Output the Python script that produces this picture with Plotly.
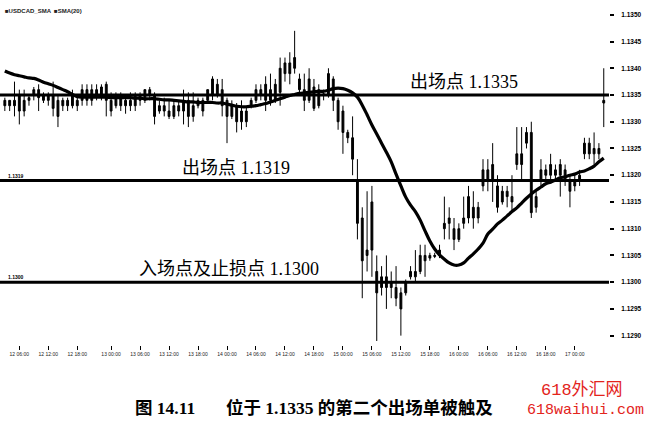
import plotly.graph_objects as go

# ---- data (hourly candles, index = bar number) ----
opens = [1.1334, 1.1333, 1.1334, 1.1335, 1.1332, 1.1334, 1.1335, 1.1336, 1.1334, 1.1335,
         1.1335, 1.1334, 1.1333, 1.1334, 1.1333, 1.1334, 1.1334, 1.1336, 1.1334, 1.1336,
         1.1335, 1.1337, 1.1334, 1.1333, 1.1335, 1.1333, 1.1334, 1.1333, 1.1335, 1.1334,
         1.1336, 1.1335, 1.1332, 1.1333, 1.1332, 1.1331, 1.1333, 1.1332, 1.1334, 1.1331,
         1.1333, 1.1334, 1.1334, 1.1335, 1.1337, 1.1336, 1.1334, 1.1331, 1.1333, 1.1330,
         1.1332, 1.1333, 1.1334, 1.1336, 1.1334, 1.1336, 1.1334, 1.13355, 1.1339, 1.1341,
         1.1340, 1.1338, 1.1336, 1.1334, 1.13365, 1.1333, 1.1335, 1.1335, 1.1338, 1.1334,
         1.1332, 1.1328, 1.1327, 1.1319, 1.1312, 1.1305, 1.1315, 1.1302, 1.1299, 1.1301,
         1.1299, 1.1299, 1.1298, 1.1298, 1.1301, 1.1301, 1.1302, 1.1304, 1.1305, 1.13048,
         1.1305, 1.1310, 1.1311, 1.1310, 1.1308, 1.1311, 1.1312, 1.1314, 1.1312, 1.1318,
         1.1321, 1.1319, 1.1318, 1.1315, 1.1317, 1.1316, 1.1322, 1.1324, 1.1326, 1.1328,
         1.1314, 1.1319, 1.1321, 1.1320, 1.1321, 1.1320, 1.1321, 1.1319, 1.1318, 1.1319,
         1.1324, 1.1326, 1.1324, 1.1325, 1.13335]
highs = [1.13345, 1.1334, 1.13375, 1.1336, 1.1336, 1.1335, 1.13365, 1.1337, 1.13355, 1.13355,
         1.13375, 1.1335, 1.13345, 1.13345, 1.1336, 1.13345, 1.1337, 1.1337, 1.1337, 1.1337,
         1.1337, 1.13375, 1.13355, 1.13355, 1.13355, 1.1335, 1.13355, 1.13355, 1.13355, 1.1336,
         1.13365, 1.13355, 1.1334, 1.13345, 1.1334, 1.1334, 1.1334, 1.1336, 1.13355, 1.13355,
         1.13345, 1.13345, 1.1336, 1.13385, 1.1338, 1.1338, 1.13345, 1.1334, 1.13335, 1.1334,
         1.1333, 1.13345, 1.1337, 1.1337, 1.13385, 1.1339, 1.1338, 1.1342, 1.1342, 1.1343,
         1.1347, 1.1339, 1.1339, 1.1340, 1.1338, 1.1337, 1.1336, 1.1340, 1.13385, 1.13345,
         1.1333, 1.13285, 1.1331, 1.1323, 1.1314, 1.1317, 1.1318, 1.1305, 1.1303, 1.1305,
         1.1302, 1.1303, 1.1299, 1.13005, 1.1303, 1.1306, 1.1307, 1.1307, 1.13055, 1.13055,
         1.1307, 1.1316, 1.1314, 1.1312, 1.1311, 1.1316, 1.1318, 1.1317, 1.1315, 1.1323,
         1.1323, 1.1326, 1.1320, 1.1318, 1.1318, 1.1320, 1.1329, 1.1329, 1.1329, 1.1330,
         1.1317, 1.1323, 1.1322, 1.1324, 1.1322, 1.1323, 1.1322, 1.1320, 1.1320, 1.1321,
         1.1327, 1.1327, 1.1328, 1.1326, 1.1340]
lows = [1.1332, 1.1332, 1.1331, 1.13295, 1.1331, 1.1333, 1.1334, 1.1332, 1.13335, 1.1333,
        1.1331, 1.1329, 1.1332, 1.1332, 1.13325, 1.1332, 1.1333, 1.1333, 1.1333, 1.1334,
        1.1334, 1.1331, 1.1331, 1.13325, 1.1332, 1.13315, 1.1332, 1.1332, 1.1333, 1.13335,
        1.1334, 1.13295, 1.13315, 1.1331, 1.13305, 1.13305, 1.1331, 1.13295, 1.1329, 1.1330,
        1.13325, 1.1331, 1.13335, 1.1334, 1.13345, 1.1331, 1.1326, 1.13305, 1.1328, 1.13285,
        1.1329, 1.13325, 1.13335, 1.1334, 1.1332, 1.1333, 1.13335, 1.1333, 1.13375, 1.1337,
        1.1339, 1.1335, 1.1332, 1.13335, 1.1332, 1.13325, 1.1334, 1.13345, 1.1332, 1.13285,
        1.1324, 1.1326, 1.1320, 1.1308, 1.1297, 1.1302, 1.1301, 1.1289, 1.12975, 1.1295,
        1.1297, 1.12955, 1.1290, 1.12975, 1.13005, 1.1300, 1.13015, 1.1301, 1.1304, 1.13045,
        1.13045, 1.1308, 1.1308, 1.1306, 1.13075, 1.1310, 1.1311, 1.1310, 1.1311, 1.1317,
        1.1317, 1.1315, 1.1313, 1.13145, 1.1314, 1.1313, 1.1321, 1.1319, 1.1325, 1.1312,
        1.1313, 1.1318, 1.1319, 1.1319, 1.1319, 1.1316, 1.1318, 1.1314, 1.1317, 1.1318,
        1.1323, 1.1323, 1.1322, 1.1323, 1.1329]
closes = [1.1333, 1.1334, 1.1333, 1.1332, 1.1334, 1.13345, 1.1336, 1.13345, 1.1335, 1.1334,
          1.13325, 1.1331, 1.1334, 1.1333, 1.1335, 1.1333, 1.1336, 1.1334, 1.1336, 1.1335,
          1.13365, 1.1334, 1.1332, 1.1335, 1.1333, 1.1334, 1.1333, 1.1335, 1.1334, 1.1336,
          1.1335, 1.1331, 1.1333, 1.1332, 1.1331, 1.1333, 1.1332, 1.1334, 1.1331, 1.1333,
          1.1334, 1.1332, 1.1336, 1.1338, 1.1335, 1.1333, 1.1331, 1.1333, 1.1330, 1.1332,
          1.1330, 1.1334, 1.1336, 1.1335, 1.1337, 1.1334, 1.1337, 1.1340, 1.1341, 1.1339,
          1.1342, 1.1336, 1.1334, 1.1338, 1.13325, 1.1336, 1.13352, 1.1339, 1.1334, 1.1330,
          1.1328, 1.1327, 1.1323, 1.1311, 1.1304, 1.1306, 1.1306, 1.1298, 1.1301, 1.1299,
          1.1300, 1.1297, 1.1295, 1.1300, 1.1302, 1.1302, 1.1305, 1.1305, 1.13045, 1.1305,
          1.1306, 1.1311, 1.1312, 1.1308, 1.1310, 1.1312, 1.1316, 1.1312, 1.1314, 1.1321,
          1.1319, 1.1322, 1.1314, 1.1317, 1.1316, 1.1315, 1.1324, 1.1322, 1.1328, 1.1313,
          1.1316, 1.1321, 1.1320, 1.1322, 1.1320, 1.1322, 1.1319, 1.1317, 1.1319, 1.1320,
          1.1326, 1.1324, 1.1325, 1.1324, 1.1334]
sma20 = [1.13395, 1.13391, 1.13388, 1.13386, 1.13384, 1.13382, 1.13381, 1.13378, 1.13374, 1.13371,
         1.13368, 1.13364, 1.13360, 1.13356, 1.13351, 1.13347, 1.13346, 1.13346, 1.13346, 1.13346,
         1.13346, 1.13346, 1.13345, 1.13345, 1.13345, 1.13345, 1.13345, 1.13344, 1.13344, 1.13343,
         1.13343, 1.13343, 1.13342, 1.13341, 1.13341, 1.13340, 1.13339, 1.13338, 1.13337, 1.13337,
         1.13336, 1.13336, 1.13336, 1.13336, 1.13335, 1.13335, 1.13333, 1.13331, 1.13329, 1.13328,
         1.13328, 1.13329, 1.13330, 1.13332, 1.13334, 1.13337, 1.13340, 1.13343, 1.13346, 1.13349,
         1.13351, 1.13353, 1.13354, 1.13355, 1.13356, 1.13357, 1.13357, 1.13359, 1.13362, 1.13363,
         1.13362, 1.13359, 1.13354, 1.13346, 1.13331, 1.13313, 1.13294, 1.13277, 1.13260, 1.13243,
         1.13225, 1.13202, 1.13180, 1.13159, 1.13144, 1.13132, 1.13116, 1.13096, 1.13077, 1.13062,
         1.13051, 1.13043, 1.13036, 1.13032, 1.13032, 1.13036, 1.13045, 1.13053, 1.13062, 1.13073,
         1.13090, 1.13099, 1.13109, 1.13116, 1.13124, 1.13132, 1.13139, 1.13148, 1.13157, 1.13165,
         1.13172, 1.13178, 1.13184, 1.13187, 1.13191, 1.13195, 1.13197, 1.13200, 1.13202, 1.13206,
         1.13208, 1.13212, 1.13217, 1.13225, 1.13232]

levels = [1.1335, 1.1319, 1.1300]
level_labels = ["出场点 1.1335", "出场点 1.1319", "入场点及止损点 1.1300"]
level_label_left_px = [408, 180, 137]

x_tick_pos = [3, 9, 15, 22, 28, 34, 40, 46, 52, 58, 64, 70, 76, 82, 88, 94, 100, 106, 112, 118]
x_tick_text = ["12 06:00", "12 12:00", "12 18:00", "13 00:00", "13 06:00", "13 12:00", "13 18:00",
               "14 00:00", "14 06:00", "14 12:00", "14 18:00", "15 00:00", "15 06:00", "15 12:00",
               "15 18:00", "16 00:00", "16 06:00", "16 12:00", "16 18:00", "17 00:00"]
y_tick_vals = [1.1290, 1.1295, 1.1300, 1.1305, 1.1310, 1.1315, 1.1320, 1.1325, 1.1330,
               1.1335, 1.1340, 1.1345, 1.1350]
y_tick_text = ["%.4f" % v for v in y_tick_vals]

caption = ("图&nbsp;14.11&nbsp;&nbsp;&nbsp;&nbsp;&nbsp;&nbsp;&nbsp;位于&nbsp;1.1335&nbsp;"
           "的第二个出场单被触及")

# ---- figure ----
W, H = 646, 424
ML, MR, MT, MB = 0, 37, 5, 79
PW = W - ML - MR
PH = H - MT - MB

xi = list(range(len(closes)))

fig = go.Figure()
fig.add_trace(go.Candlestick(
    x=xi, open=opens, high=highs, low=lows, close=closes,
    increasing=dict(line=dict(color="black", width=1), fillcolor="black"),
    decreasing=dict(line=dict(color="black", width=1), fillcolor="black"),
    whiskerwidth=0, showlegend=False, hoverinfo="skip",
))
fig.add_trace(go.Scatter(
    x=xi, y=sma20, mode="lines", line=dict(color="black", width=3.2, shape="spline"),
    showlegend=False, hoverinfo="skip",
))

for lv in levels:
    fig.add_shape(type="line", xref="paper", x0=0, x1=1, yref="y", y0=lv, y1=lv,
                  line=dict(color="black", width=3), layer="above")

cjk_font = "Liberation Serif, Noto Sans CJK SC"
for lv, txt, lp in zip(levels, level_labels, level_label_left_px):
    fig.add_annotation(text=txt, xref="paper", x=lp / PW, yref="y", y=lv,
                       xanchor="left", yanchor="bottom", yshift=1, showarrow=False,
                       font=dict(family=cjk_font, size=18, color="black"))

for lv in levels[1:]:
    fig.add_annotation(text="%.4f" % lv, xref="paper", x=6 / PW, yref="y", y=lv,
                       xanchor="left", yanchor="bottom", yshift=0, showarrow=False,
                       font=dict(family="Liberation Sans", size=5, color="black", weight="bold"))

fig.add_annotation(text="■USDCAD_SMA  ■SMA(20)", xref="paper", x=3 / PW, yref="paper",
                   y=(PH + MT - 6) / PH - MT / PH, xanchor="left", yanchor="middle", showarrow=False,
                   font=dict(family="Liberation Sans", size=6, color="#222", weight="bold"))

fig.add_annotation(text="<b>" + caption + "</b>", xref="paper", x=133 / PW, yref="paper",
                   y=(PH + MT - 408) / PH, xanchor="left", yanchor="middle", showarrow=False,
                   font=dict(family=cjk_font, size=17.5, color="black"))
fig.add_annotation(text="618外汇网", xref="paper", x=582 / PW, yref="paper",
                   y=(PH + MT - 390) / PH, xanchor="center", yanchor="middle", showarrow=False,
                   font=dict(family="Liberation Mono, Noto Sans CJK SC", size=17, color="#e3241c"))
fig.add_annotation(text="618waihui.com", xref="paper", x=585 / PW, yref="paper",
                   y=(PH + MT - 410) / PH, xanchor="center", yanchor="middle", showarrow=False,
                   font=dict(family="Liberation Mono", size=15, color="#e3241c"))

px_per_bar = 4.83
fig.update_layout(
    width=W, height=H, margin=dict(l=ML, r=MR, t=MT, b=MB, autoexpand=False),
    paper_bgcolor="white", plot_bgcolor="white",
    xaxis=dict(range=[-1, PW / px_per_bar - 1], showgrid=False, zeroline=False, showline=False,
               rangeslider=dict(visible=False), tickmode="array", tickvals=x_tick_pos,
               ticktext=x_tick_text, ticks="outside", ticklen=4, tickcolor="black",
               tickfont=dict(family="Liberation Sans", size=5, color="#222")),
    yaxis=dict(side="right", range=[1.128825, 1.135183], showgrid=False, zeroline=False,
               showline=False, tickmode="array", tickvals=y_tick_vals, ticktext=y_tick_text,
               ticks="outside", ticklen=4, tickwidth=1.5, tickcolor="black", ticklabelstandoff=6,
               tickfont=dict(family="Liberation Sans", size=6.5, color="black", weight="bold")),
    boxgap=0.45,
)

fig.write_html("out.html", config={"displayModeBar": False},
               post_script="document.body.style.margin='0';")
